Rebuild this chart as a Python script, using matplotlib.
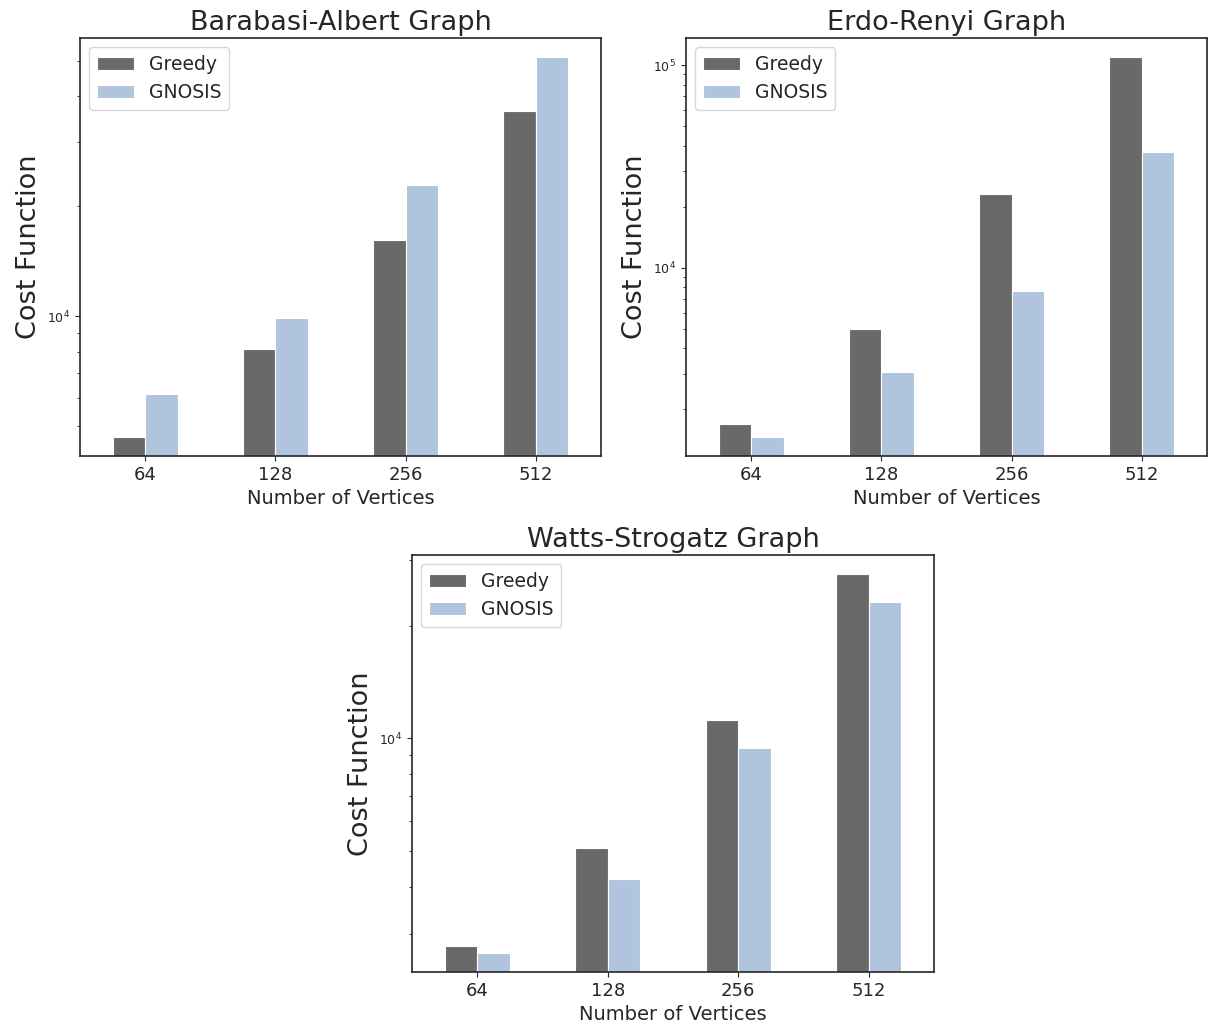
import numpy as np
import matplotlib
matplotlib.use("Agg")
import matplotlib.pyplot as plt
import seaborn as sns

# Data
vertices = ["64", "128", "256", "512"]
ba_greedy = [4680, 8130, 16200, 36500]
ba_gnosis = [6120, 9880, 22800, 51200]
er_greedy = [1700, 5010, 23200, 109600]
er_gnosis = [1460, 3050, 7640, 37300]
ws_greedy = [2780, 5080, 11170, 27500]
ws_gnosis = [2660, 4210, 9400, 23200]

greedy_color = "dimgray"
gnosis_color = "lightsteelblue"

sns.set_style("ticks")

fig = plt.figure(figsize=(12.09, 10.28), dpi=100)
ax1 = fig.add_axes([80 / 1209, 1 - 456 / 1028, 521 / 1209, 418 / 1028])
ax2 = fig.add_axes([686 / 1209, 1 - 456 / 1028, 521 / 1209, 418 / 1028])
ax3 = fig.add_axes([412 / 1209, 1 - 972 / 1028, 522 / 1209, 417 / 1028])

panels = [
    (ax1, "Barabasi-Albert Graph", ba_greedy, ba_gnosis),
    (ax2, "Erdo-Renyi Graph", er_greedy, er_gnosis),
    (ax3, "Watts-Strogatz Graph", ws_greedy, ws_gnosis),
]

x = np.arange(len(vertices))
w = 0.25
for ax, title, greedy, gnosis in panels:
    ax.bar(x - w / 2, greedy, w, color=greedy_color, label="Greedy",
           edgecolor="white", linewidth=0.8, log=True)
    ax.bar(x + w / 2, gnosis, w, color=gnosis_color, label="GNOSIS",
           edgecolor="white", linewidth=0.8, log=True)
    lo = np.log10(min(min(greedy), min(gnosis)))
    hi = np.log10(max(max(greedy), max(gnosis)))
    pad = 0.05 * (hi - lo)
    ax.set_ylim(10 ** (lo - pad), 10 ** (hi + pad))
    ax.set_xlim(-0.5, len(vertices) - 0.5)
    ax.set_xticks(x)
    ax.set_xticklabels(vertices, fontsize=13)
    ax.tick_params(axis="y", which="major", labelsize=9)
    ax.tick_params(axis="y", which="minor", labelleft=False)
    ax.set_title(title, fontsize=19.5)
    ax.set_xlabel("Number of Vertices", fontsize=14)
    ax.set_ylabel("Cost Function", fontsize=19.5)
    ax.legend(loc="upper left", fontsize=13.5)
    for s in ax.spines.values():
        s.set_color(".15")
        s.set_linewidth(1.2)

fig.savefig("out.png", dpi=100)
